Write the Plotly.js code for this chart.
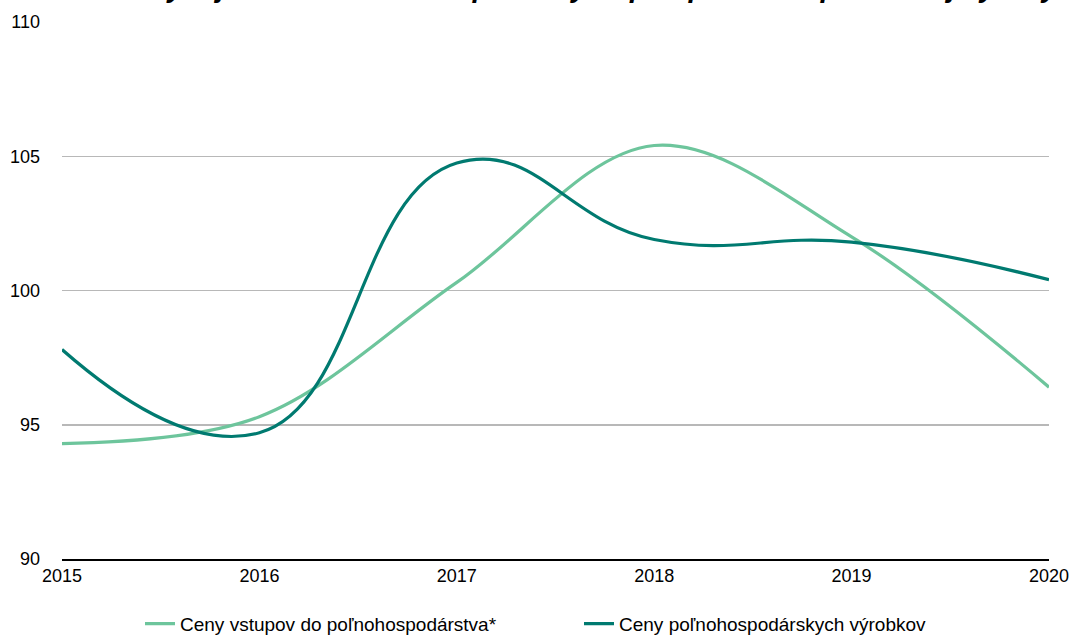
<!DOCTYPE html>
<html>
<head>
<meta charset="utf-8">
<script src="https://cdn.plot.ly/plotly-3.0.1.min.js"></script>
<style>html,body{margin:0;padding:0;background:#fff;}#chart{width:1072px;height:635px;}</style>
</head>
<body>
<div id="chart"></div>
<script>
const years = [2015, 2016, 2017, 2018, 2019, 2020];
const vstupy = [94.3, 95.3, 100.3, 105.4, 102.0, 96.4];
const vyrobky = [97.8, 94.7, 104.75, 101.9, 101.8, 100.4];
const seriesNames = ["Ceny vstupov do poľnohospodárstva*", "Ceny poľnohospodárskych výrobkov"];
const titleText = "Trend – vývoj indexov cien vstupov a výstupov poľnohospodárskej výroby";

const font = "Liberation Sans, Arial, Helvetica, sans-serif";

const traces = [
  {x: years, y: vstupy, name: seriesNames[0], type: "scatter", mode: "lines",
   line: {color: "#6dc59c", width: 3.2, shape: "spline", smoothing: 1.0}},
  {x: years, y: vyrobky, name: seriesNames[1], type: "scatter", mode: "lines",
   line: {color: "#007a70", width: 3.2, shape: "spline", smoothing: 1.3}}
];

const layout = {
  width: 1072, height: 635,
  margin: {l: 62, r: 23, t: 22, b: 76},
  paper_bgcolor: "#fff", plot_bgcolor: "#fff",
  font: {family: font, size: 18, color: "#000"},
  annotations: [{
    text: "<b><i>" + titleText + "</i></b>", font: {family: font, size: 28.6, color: "#000"},
    xref: "paper", yref: "paper", x: 0.4954, xanchor: "center", y: 1.0335, yanchor: "bottom",
    showarrow: false, borderpad: 0
  }],
  xaxis: {range: [2015, 2020], tickvals: years, ticktext: years.map(String), showgrid: false,
          zeroline: false, showline: true, linecolor: "#000", linewidth: 1.5, ticks: "",
          tickfont: {family: font, size: 18, color: "#000"}, fixedrange: true, automargin: false},
  yaxis: {range: [90, 110], dtick: 5, tick0: 90, showgrid: true, gridcolor: "#b8b8b8", gridwidth: 1.5,
          zeroline: false, showline: false, ticks: "", ticklabelstandoff: 21,
          tickfont: {family: font, size: 18, color: "#000"}, fixedrange: true, automargin: false},
  showlegend: true,
  legend: {orientation: "h", x: 0.1306, xanchor: "left", xref: "container", y: 0.0475, yref: "container", yanchor: "top",
           font: {family: font, size: 19, color: "#000"}, itemwidth: 30,
           entrywidth: 394, entrywidthmode: "pixels", bgcolor: "rgba(0,0,0,0)"}
};

Plotly.newPlot("chart", traces, layout, {displayModeBar: false, staticPlot: true});
</script>
</body>
</html>
